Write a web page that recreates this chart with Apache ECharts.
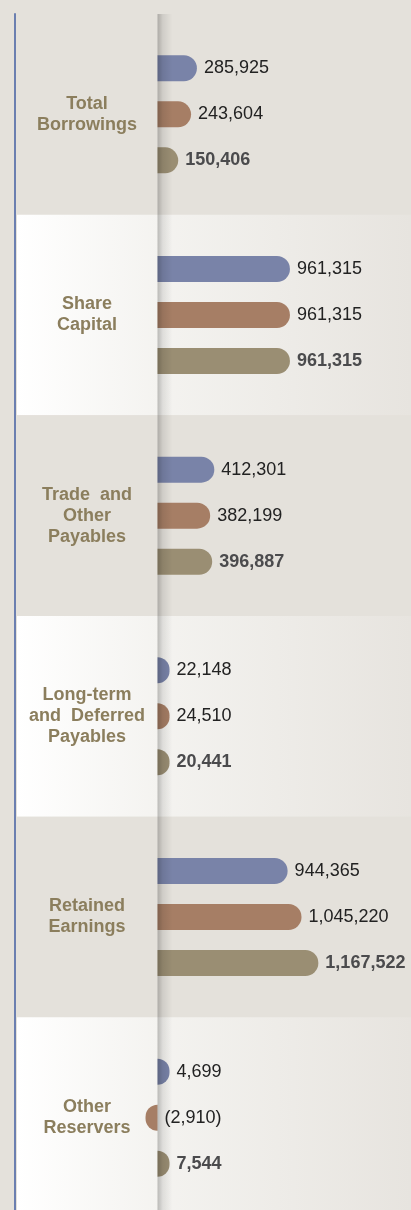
<!DOCTYPE html>
<html>
<head>
<meta charset="utf-8">
<script src="https://cdn.jsdelivr.net/npm/echarts@6/dist/echarts.min.js"></script>
<style>
	html,body{margin:0;padding:0;background:#e4e1db;overflow:hidden;}
	#balance_chart{width:411px;height:1218px;}
</style>
</head>
<body>
<div id="balance_chart"></div>
<script>
	// data
	var categories = ['Total\nBorrowings', 'Share\nCapital', 'Trade  and\nOther\nPayables', 'Long-term\nand  Deferred\nPayables', 'Retained\nEarnings', 'Other\nReservers'];
	var seriesA = [285925, 961315, 412301, 22148, 944365, 4699];
	var seriesB = [243604, 961315, 382199, 24510, 1045220, -2910];
	var seriesC = [150406, 961315, 396887, 20441, 1167522, 7544];
	var seriesNames = ['Series A', 'Series B', 'Series C'];
	var colors = ['#7983a8', '#a67e65', '#9a8e73'];

	var gridTop = 14;
	var chart = echarts.init(document.getElementById('balance_chart'));

	function fmt(p) {
		var v = p.value;
		var s = Math.abs(v).toLocaleString('en-US');
		return v < 0 ? '(' + s + ')' : s;
	}

	function toData(arr) {
		return arr.map(function (v) {
			return {value: v, itemStyle: {borderRadius: v < 0 ? [13, 0, 0, 13] : [0, 13, 13, 0]}};
		});
	}

	function makeSeries(i, arr, bold) {
		return {
			name: seriesNames[i],
			type: 'bar',
			data: toData(arr),
			barWidth: 26,
			barGap: '77%',
			barMinHeight: 12,
			itemStyle: {color: colors[i]},
			label: {
				show: true,
				position: 'right',
				distance: 7,
				formatter: fmt,
				fontFamily: 'Liberation Sans, Arial, sans-serif',
				fontSize: 18,
				fontWeight: bold ? 'bold' : 'normal',
				color: bold ? '#4b4b4d' : '#222222'
			}
		};
	}

	var whiteBand = new echarts.graphic.LinearGradient(0, 0, 1, 0, [
		{offset: 0, color: '#ffffff'},
		{offset: 0.36, color: '#f4f3f0'},
		{offset: 1, color: '#e7e4df'}
	]);

	var option = {
		animation: false,
		backgroundColor: '#e4e1db',
		grid: {left: 17, right: 0, top: gridTop, bottom: 0, containLabel: false},
		xAxis: {
			type: 'value',
			min: -1020000,
			max: 1840000,
			show: false
		},
		yAxis: {
			type: 'category',
			inverse: true,
			data: categories,
			offset: 2,
			axisLine: {show: true, onZero: false, lineStyle: {color: '#6b7fb0', width: 2}},
			axisTick: {show: false},
			axisLabel: {
				margin: -72,
				align: 'center',
				fontFamily: 'Liberation Sans, Arial, sans-serif',
				fontSize: 18,
				fontWeight: 'bold',
				lineHeight: 21,
				color: '#8b7e5d'
			},
			splitArea: {show: true, areaStyle: {color: ['#e4e1db', whiteBand]}}
		},
		series: [
			makeSeries(0, seriesA, false),
			makeSeries(1, seriesB, false),
			makeSeries(2, seriesC, true)
		]
	};
	chart.setOption(option);

	// panel edge shadow over the start of the bars
	var x0 = chart.convertToPixel({xAxisIndex: 0}, 0);
	chart.setOption({
		graphic: [{
			type: 'rect',
			z: 100,
			shape: {x: x0, y: gridTop, width: 15, height: 1218 - gridTop},
			style: {
				fill: new echarts.graphic.LinearGradient(0, 0, 1, 0, [
					{offset: 0, color: 'rgba(0,0,0,0.24)'},
					{offset: 0.35, color: 'rgba(0,0,0,0.09)'},
					{offset: 1, color: 'rgba(0,0,0,0)'}
				])
			}
		}]
	});
</script>
</body>
</html>
